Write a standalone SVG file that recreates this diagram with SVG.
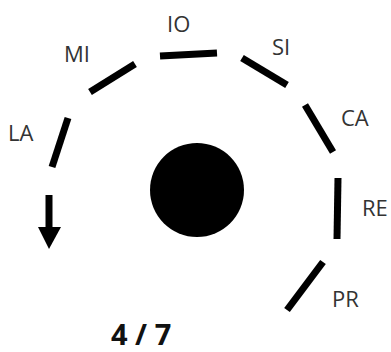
<svg xmlns="http://www.w3.org/2000/svg" width="391" height="352" viewBox="0 0 391 352">
<style>
.seg{stroke:#000;stroke-width:7;fill:none}
.lbl{font-family:"Open Sans","Liberation Sans",sans-serif;font-size:22px;fill:#333}
.cnt{font-family:"Open Sans","Liberation Sans",sans-serif;font-size:29px;font-weight:bold;fill:#111}
</style>
<rect width="391" height="352" fill="#fff"/>
<g id="center"><circle cx="197" cy="190" r="47" fill="#000"/></g>
<g id="connectors">
<line class="seg" x1="52" y1="167" x2="68" y2="118"/>
<line class="seg" x1="90" y1="92" x2="135" y2="64"/>
<line class="seg" x1="160" y1="56" x2="217" y2="53"/>
<line class="seg" x1="242" y1="58" x2="287" y2="85"/>
<line class="seg" x1="305" y1="105" x2="333" y2="152"/>
<line class="seg" x1="338" y1="178" x2="337" y2="239"/>
<line class="seg" x1="323" y1="262" x2="287" y2="310"/>
<line class="seg" x1="49" y1="195" x2="49" y2="229"/>
<polygon points="38,227 61,227 49,249" fill="#000"/>
</g>
<g id="IO"><text class="lbl" x="167" y="32">IO</text></g>
<g id="MI"><text class="lbl" x="64" y="62">MI</text></g>
<g id="LA"><text class="lbl" x="8" y="141">LA</text></g>
<g id="SI"><text class="lbl" x="272" y="55">SI</text></g>
<g id="CA"><text class="lbl" x="341" y="126">CA</text></g>
<g id="RE"><text class="lbl" x="362" y="216">RE</text></g>
<g id="PR"><text class="lbl" x="332" y="307">PR</text></g>
<g id="count"><text class="cnt" x="111" y="345">4 / 7</text></g>
</svg>
